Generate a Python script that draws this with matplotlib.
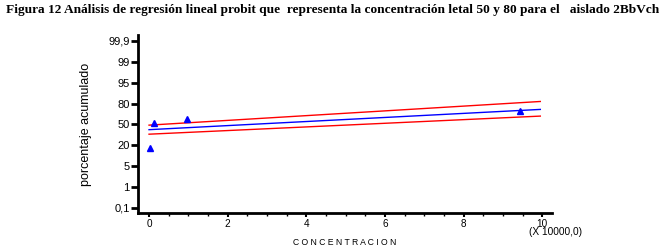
import matplotlib.pyplot as plt
import numpy as np
from matplotlib.ticker import MultipleLocator

# probit-style axis (labels equally spaced as in the original software)
y_ticks = [0.1, 1, 5, 20, 50, 80, 95, 99, 99.9]
y_labels = ['0,1', '1', '5', '20', '50', '80', '95', '99', '99,9']

# observed points (concentracion x 10000, % acumulado)
obs_x = [0.03, 0.12, 0.97, 9.44]
obs_y = [18, 51.5, 58, 69]

# fitted line and confidence limits
fit_x = [0.0, 9.95]
fit_y = [42.5, 71.6]
upper_y = [49, 81.5]
lower_y = [36, 62]

y_pos = np.arange(len(y_ticks))

def to_axis(v):
    # map a percentage to the equally spaced probit tick positions
    return np.interp(v, y_ticks, y_pos)

fig = plt.figure(figsize=(6.62, 2.47), dpi=100)
ax = fig.add_axes([0.2085, 0.1377, 0.834 - 0.2085, 0.858 - 0.1377])

ax.plot(fit_x, to_axis(fit_y), color='blue', lw=1)
ax.plot(fit_x, to_axis(upper_y), color='red', lw=1)
ax.plot(fit_x, to_axis(lower_y), color='red', lw=1)
ax.plot(obs_x, to_axis(obs_y), linestyle='none', marker='^', color='blue', ms=4)

ax.set_yticks(y_pos)
ax.set_yticklabels(y_labels)
ax.set_ylim(-0.24, 8.28)

ax.set_xlim(-0.28, 10.25)
ax.xaxis.set_major_locator(MultipleLocator(2))
ax.xaxis.set_minor_locator(MultipleLocator(0.5))

for s in ['top', 'right']:
    ax.spines[s].set_visible(False)
for s in ['left', 'bottom']:
    ax.spines[s].set_linewidth(2)

ax.tick_params(axis='y', length=5, width=2, labelsize=8, pad=1)
ax.tick_params(axis='x', which='major', length=3, width=1.5, labelsize=7.2, pad=1)
ax.tick_params(axis='x', which='minor', length=2, width=1)
for lab in ax.get_xticklabels() + ax.get_yticklabels():
    lab.set_family('Liberation Sans')

ax.set_ylabel('porcentaje acumulado', family='Liberation Sans', fontsize=9, labelpad=12)
ax.set_xlabel('C O N C E N T R A C I O N', family='Liberation Sans', fontsize=6.2, labelpad=7)
ax.text(10.34, -0.108, '(X 10000,0)', transform=ax.get_xaxis_transform(),
        ha='center', va='center', family='Liberation Sans', fontsize=7.3)

fig.text(0.009, 0.96, 'Figura 12 Análisis de regresión lineal probit que  representa la concentración letal 50 y 80 para el   aislado 2BbVch',
         family='Liberation Serif', weight='bold', fontsize=9.6, ha='left', va='center')

plt.savefig('out.png', dpi=100)
